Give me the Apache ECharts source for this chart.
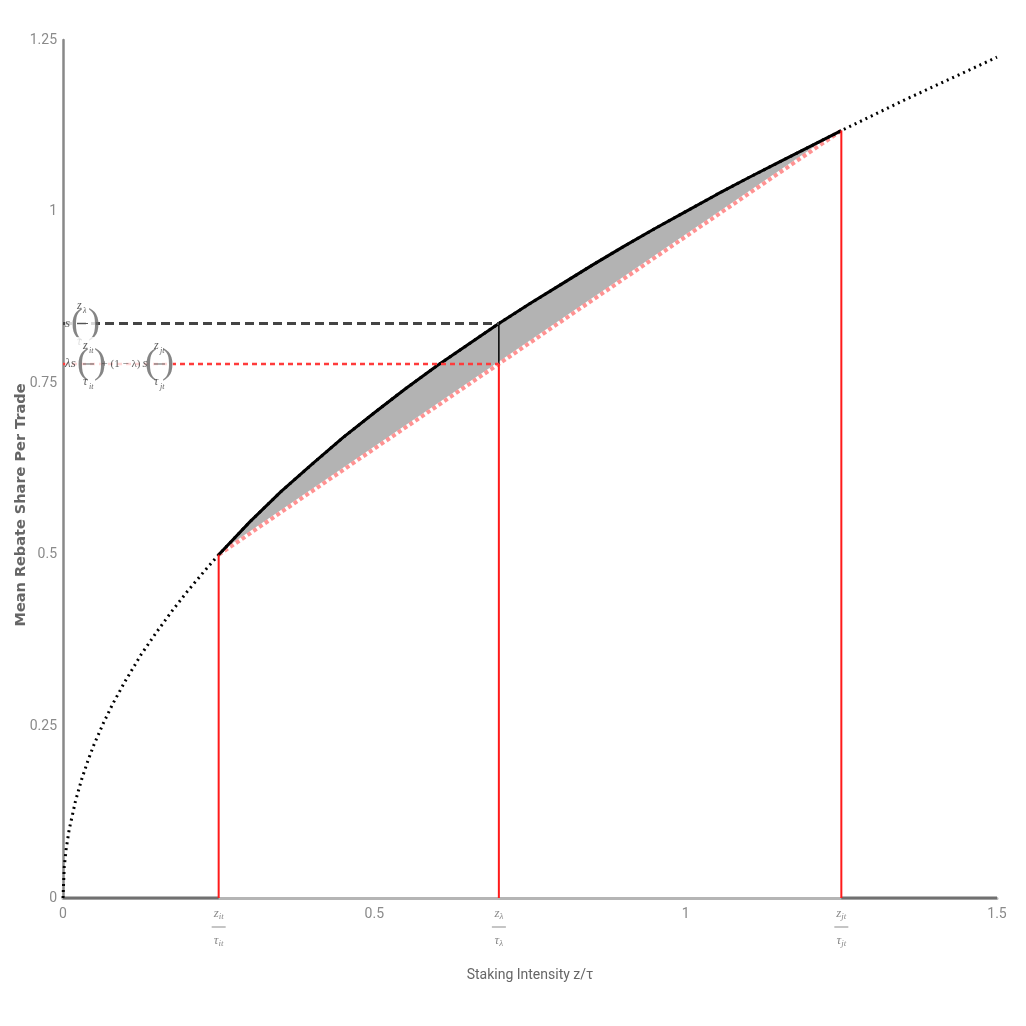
<!DOCTYPE html>
<html>
<head>
<meta charset="utf-8">
<script src="https://cdn.jsdelivr.net/npm/echarts@6/dist/echarts.min.js"></script>
<style>html,body{margin:0;padding:0;background:#fff;}#c{width:1026px;height:1026px;}</style>
</head>
<body>
<div id="c"></div>
<script>
// ---- data ----
const curveX = [0, 0.002, 0.005, 0.01, 0.02, 0.03, 0.04, 0.05, 0.065, 0.08, 0.1, 0.125, 0.15, 0.175, 0.2, 0.225, 0.25, 0.3, 0.35, 0.4, 0.45, 0.5, 0.55, 0.6, 0.65, 0.7, 0.75, 0.8, 0.85, 0.9, 0.95, 1.0, 1.05, 1.1, 1.15, 1.2, 1.25, 1.3, 1.35, 1.4, 1.45, 1.5];
const curveY = [0, 0.045, 0.071, 0.1, 0.141, 0.173, 0.2, 0.224, 0.255, 0.283, 0.316, 0.354, 0.387, 0.418, 0.447, 0.474, 0.5, 0.548, 0.592, 0.632, 0.671, 0.707, 0.742, 0.775, 0.806, 0.837, 0.866, 0.894, 0.922, 0.949, 0.975, 1.0, 1.025, 1.049, 1.072, 1.095, 1.118, 1.140, 1.162, 1.183, 1.204, 1.225];
const zIt = 0.25, sIt = 0.5;
const zJt = 1.25, sJt = 1.118;
const zLam = 0.7, sLam = 0.837, chordLam = 0.778;
const yTicks = [0, 0.25, 0.5, 0.75, 1, 1.25];
const xTicks = [0, 0.5, 1, 1.5];
const xFracTicks = [zIt, zLam, zJt];
const xFracSub = ['it', 'λ', 'jt'];

// ---- build ----
const curvePts = curveX.map((x, i) => [x, curveY[i]]);
const segPts = curvePts.filter(p => p[0] >= zIt && p[0] <= zJt);
const chordPts = [[zIt, sIt], [zJt, sJt]];

const narrow = "Roboto,'Liberation Sans Narrow','Liberation Sans',sans-serif";
const serif = "'Liberation Serif','DejaVu Serif',serif";
const gray = '#8a8a8a';
const ink = '#333';

const fracRich = {
  num: {fontFamily: serif, fontStyle: 'italic', fontSize: 13, color: gray, lineHeight: 15},
  sub: {fontFamily: serif, fontStyle: 'italic', fontSize: 9, color: gray, lineHeight: 15, verticalAlign: 'bottom'},
  bar: {width: 14, height: 1, backgroundColor: gray, lineHeight: 12},
  plain: {fontFamily: narrow, fontSize: 14, color: gray, lineHeight: 16}
};

const labRich = {
  s: {fontFamily: serif, fontStyle: 'italic', fontSize: 13, color: ink, lineHeight: 18, width: 6},
  ls: {fontFamily: serif, fontStyle: 'italic', fontSize: 13, color: ink, lineHeight: 18, width: 12},
  par: {fontFamily: serif, fontSize: 36, color: '#666', lineHeight: 18, width: 6},
  bar: {width: 11, height: 1, backgroundColor: ink, lineHeight: 18},
  num: {fontFamily: serif, fontStyle: 'italic', fontSize: 12, color: ink, lineHeight: 18, width: 6},
  sub: {fontFamily: serif, fontStyle: 'italic', fontSize: 8, color: ink, lineHeight: 18, width: 5, verticalAlign: 'bottom'},
  op: {fontFamily: serif, fontSize: 11, color: ink, lineHeight: 18, width: 42, align: 'center'},
  pa: {width: 12, lineHeight: 18},
  pb: {width: 18, lineHeight: 18},
  pc: {width: 60, lineHeight: 18}
};

const option = {
  animation: false,
  backgroundColor: '#fff',
  grid: {left: 63, right: 29, top: 40, bottom: 128, containLabel: false, outerBoundsMode: 'none'},
  xAxis: {
    type: 'value', min: 0, max: 1.5, interval: 0.5,
    name: 'Staking Intensity z/τ', nameLocation: 'middle', nameGap: 70,
    nameTextStyle: {fontFamily: narrow, fontSize: 14, color: '#666'},
    axisLine: {show: true, lineStyle: {color: '#b5b5b5', width: 3}},
    axisTick: {show: false},
    splitLine: {show: false},
    axisLabel: {
      customValues: xTicks.concat(xFracTicks).sort((a, b) => a - b),
      margin: 8,
      hideOverlap: false,
      showMinLabel: true, showMaxLabel: true,
      formatter: function (v) {
        const k = xFracTicks.indexOf(v);
        if (k >= 0) {
          const s = xFracSub[k];
          return '{num|z}{sub|' + s + '}\n{bar|}\n{num|τ}{sub|' + s + '}';
        }
        return '{plain|' + v + '}';
      },
      rich: fracRich
    }
  },
  yAxis: {
    type: 'value', min: 0, max: 1.25, interval: 0.25,
    name: 'Mean Rebate Share Per Trade', nameLocation: 'middle', nameGap: 34,
    nameMoveOverlap: false,
    nameTextStyle: {fontFamily: "'DejaVu Sans',Verdana,sans-serif", fontWeight: 'bold', fontSize: 14.5, color: '#666', padding: [0, 72, 0, 0]},
    axisLine: {show: true, lineStyle: {color: '#888', width: 2.5}},
    axisTick: {show: false},
    splitLine: {show: false},
    axisLabel: {fontFamily: narrow, fontSize: 14, color: gray, margin: 6}
  },
  series: [
    {
      type: 'custom', silent: true, z: 1,
      data: segPts,
      encode: {x: 0, y: 1},
      renderItem: function (params, api) {
        if (params.dataIndex !== 0) return null;
        return {type: 'polygon', shape: {points: segPts.map(p => api.coord(p))}, style: {fill: '#b3b3b3'}};
      }
    },
    // dark segments on x-axis
    {type: 'line', data: [[0, 0], [zIt, 0]], symbol: 'none', lineStyle: {color: '#707070', width: 3}, z: 2, silent: true},
    {type: 'line', data: [[zJt, 0], [1.5, 0]], symbol: 'none', lineStyle: {color: '#707070', width: 3}, z: 2, silent: true},
    // chord: white underlay + pink dashes
    {type: 'line', data: chordPts, symbol: 'none', lineStyle: {color: '#ffffff', width: 4}, z: 3, silent: true},
    {type: 'line', data: chordPts, symbol: 'none', lineStyle: {color: 'rgba(255,110,110,0.75)', width: 4, type: [4, 3]}, z: 4, silent: true},
    // full dotted curve
    {type: 'line', data: curvePts, symbol: 'none', lineStyle: {color: '#000', width: 3, type: [2, 4]}, z: 5, silent: true},
    // solid segment
    {type: 'line', data: segPts, symbol: 'none', lineStyle: {color: '#000', width: 3}, z: 6, silent: true},
    // red verticals
    {type: 'line', data: [[zIt, 0], [zIt, sIt]], symbol: 'none', lineStyle: {color: '#ff1a1a', width: 2}, z: 7, silent: true},
    {type: 'line', data: [[zLam, 0], [zLam, chordLam]], symbol: 'none', lineStyle: {color: '#ff1a1a', width: 2}, z: 7, silent: true},
    {type: 'line', data: [[zJt, 0], [zJt, sJt]], symbol: 'none', lineStyle: {color: '#ff1a1a', width: 2}, z: 7, silent: true},
    // black vertical gap
    {type: 'line', data: [[zLam, chordLam], [zLam, sLam]], symbol: 'none', lineStyle: {color: '#000', width: 1.5}, z: 7, silent: true},
    // horizontal dashed lines
    {type: 'line', data: [[0, sLam], [zLam, sLam]], symbol: 'none', lineStyle: {color: '#444', width: 3, type: [9, 5]}, z: 7, silent: true},
    {type: 'line', data: [[0, chordLam], [zLam, chordLam]], symbol: 'none', lineStyle: {color: '#ff3b3b', width: 2.5, type: [5, 4]}, z: 7, silent: true},
    // labels
    {
      type: 'scatter', symbolSize: 0, z: 20, silent: true,
      data: [[0, sLam]],
      label: {
        show: true, position: 'right', distance: 2, color: ink,
        backgroundColor: '#fff', padding: [0, 2, 0, 0],
        formatter: '{pa|}{num|z}{sub|λ}\n{s|s}{par|(}{bar|}{par|)}\n{pa|}{num|τ}{sub|λ}',
        rich: labRich
      }
    },
    {
      type: 'scatter', symbolSize: 0, z: 20, silent: true,
      data: [[0, chordLam]],
      label: {
        show: true, position: 'right', distance: 2, color: ink,
        backgroundColor: '#fff', padding: [0, 2, 0, 0],
        formatter: '{pb|}{num|z}{sub|it}{pc|}{num|z}{sub|jt}\n{ls|λs}{par|(}{bar|}{par|)}{op|+ (1 − λ)}{s|s}{par|(}{bar|}{par|)}\n{pb|}{num|τ}{sub|it}{pc|}{num|τ}{sub|jt}',
        rich: labRich
      }
    }
  ]
};

const chart = echarts.init(document.getElementById('c'), null, {renderer: 'canvas'});
chart.setOption(option);
</script>
</body>
</html>
